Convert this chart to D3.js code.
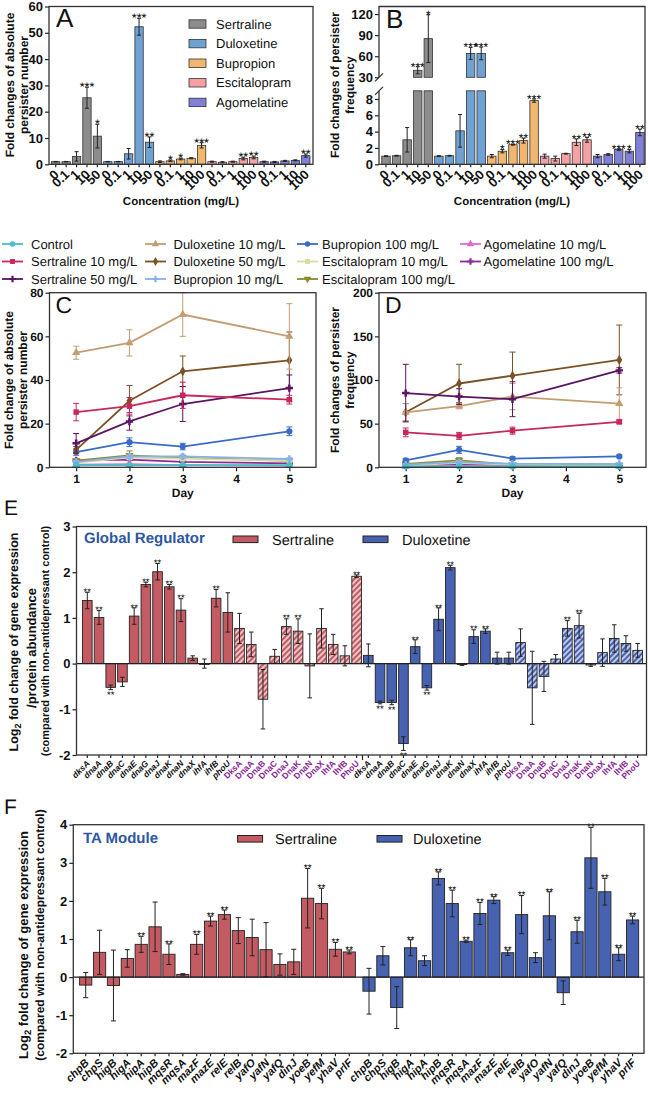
<!DOCTYPE html>
<html><head><meta charset="utf-8">
<script src="https://cdn.jsdelivr.net/npm/d3@7"></script>
<style>body{margin:0;background:#fff}</style>
</head><body>
<script>
// ---------------- DATA ----------------
const drugs = ["Sertraline","Duloxetine","Bupropion","Escitalopram","Agomelatine"];
const drugColors = ["#8c8c8c","#6fa2d3","#f2b76e","#f4a0a4","#8080d8"];
const concLabels = [["0","0.1","1","10","50"],["0","0.1","1","10","50"],["0","0.1","1","10","100"],["0","0.1","1","10","100"],["0","0.1","1","10","100"]];
// Panel A: fold change of absolute persister number
const absMean = [[1,1,3,25.3,10.7],[1,1,4,52.3,8.4],[1,1.3,2,2.3,7.2],[1,0.8,1,2.2,2.6],[1,0.9,1.3,1.5,3.3]];
const absErr  = [[0.1,0.1,1.8,4,4.5],[0.1,0.1,2,3.2,2],[0.3,0.3,0.3,0.2,1],[0.2,0.2,0.2,0.5,0.5],[0.2,0.2,0.2,0.2,0.6]];
const absSig  = [["","","","***","*"],["","","","***","**"],["","*","*","","***"],["","","","**","**"],["","","","","**"]];
const absTicks = [0,10,20,30,40,50,60];
// Panel B: fold change of persister frequency
const freqMean = [[1,1.05,3,40,85],[1,1.05,4.1,64,64],[1,1.6,2.4,2.9,7.8],[1,0.7,1.3,2.7,3],[1,1.2,1.8,1.6,3.9]];
const freqErr  = [[0.05,0.05,1.5,5,34],[0.05,0.05,2,8.5,9],[0.2,0.2,0.05,0.3,0.2],[0.25,0.3,0.05,0.4,0.3],[0.2,0.1,0.1,0.2,0.4]];
const freqSig  = [["","","","***","*"],["","","","***","***"],["","*","***","**","***"],["","","","**","**"],["","","***","*","**"]];
const freqTicksLow = [0,2,4,6,8];
const freqTicksHigh = [30,60,90,120];
// Panels C / D
const days = [1,2,3,5];
const seriesNames = ["Control","Sertraline 10 mg/L","Sertraline 50 mg/L","Duloxetine 10 mg/L","Duloxetine 50 mg/L","Bupropion 10 mg/L","Bupropion 100 mg/L","Escitalopram 10 mg/L","Escitalopram 100 mg/L","Agomelatine 10 mg/L","Agomelatine 100 mg/L"];
const seriesColors = ["#48bfc9","#c8265e","#5a1462","#c49c72","#7a5226","#88b0e8","#3a6cc6","#d8dc9e","#8c8a2e","#e468c8","#8c2a9c"];
const seriesMarkers = ["circle","square","cross","triangle","diamond","cross","circle","square","triangleDown","triangle","cross"];
const absDayMean = [[1,1,1,1],[25.3,28,33,31],[11,21,29,36.3],[52.5,57,70,60],[8,30.5,44,49],[2.5,5,5,3.8],[7,11.5,9.5,16.5],[2,4.5,4,3],[3,5.5,4.3,3],[1.2,1.5,1,0.8],[3.2,3.5,2.5,1.8]];
const absDayErr  = [[0.3,0.3,0.3,0.3],[4,4,6,2],[4.5,4,8,6],[3,6,10,15],[1.5,7,7,13],[0.5,1,1,0.5],[1.5,2,1.5,2],[0.5,1,1,0.5],[0.5,2,1,0.5],[0.3,0.3,0.3,0.3],[0.5,0.5,0.5,0.5]];
const freqDayMean = [[1,1,1,1],[40,36,42,52],[85,81,78,111],[63,70,81,73],[63,96,105,123],[3,6,4,4],[8,20,10,12.5],[2,5,3,2],[4,8,3,2.5],[1,2,1.5,1],[4,3,2,1.5]];
const freqDayErr  = [[0.5,0.5,0.5,0.5],[5,4,4,2],[33,9,20,3],[10,3,15,18],[10,22,27,40],[1,2,1,1],[2,4,2,1.5],[1,2,1,1],[1,3,1,1],[0.5,1,0.5,0.5],[1,1,1,1]];
const absDayTicks = [0,20,40,60,80];
const freqDayTicks = [0,50,100,150,200];
const dayTicks = [1,2,3,4,5];
// Panel E: global regulators
const geneLabels = ["dksA","dnaA","dnaB","dnaC","dnaE","dnaG","dnaJ","dnaK","dnaN","dnaX","ihfA","ihfB","phoU"];
const proteinLabels = ["DksA","DnaA","DnaB","DnaC","DnaJ","DnaK","DnaN","DnaX","IhfA","IhfB","PhoU"];
const sertGeneMean = [1.38,1.01,-0.52,-0.40,1.04,1.73,2.01,1.68,1.17,0.12,0.0,1.43,1.12];
const sertGeneErr  = [0.18,0.15,0.05,0.10,0.18,0.05,0.18,0.05,0.25,0.05,0.1,0.19,0.43];
const sertGeneSig  = ["**","**","**","","**","**","**","**","**","","","**",""];
const sertProtMean = [0.77,0.42,-0.78,0.16,0.81,0.71,-0.05,0.77,0.42,0.17,1.91];
const sertProtErr  = [0.33,0.27,0.65,0.15,0.17,0.27,0.70,0.43,0.22,0.22,0.03];
const sertProtSig  = ["","","","","**","**","","","","","**"];
const dulGeneMean = [0.18,-0.85,-0.85,-1.75,0.37,-0.53,0.97,2.1,-0.02,0.59,0.71,0.12,0.12];
const dulGeneErr  = [0.25,0.03,0.05,0.15,0.15,0.05,0.25,0.05,0.02,0.15,0.05,0.13,0.13];
const dulGeneSig  = ["","**","**","**","**","**","**","**","","**","**","",""];
const dulProtMean = [0.46,-0.53,-0.28,0.1,0.77,0.83,-0.03,0.24,0.55,0.44,0.29];
const dulProtErr  = [0.3,0.8,0.33,0.1,0.17,0.27,0.03,0.3,0.3,0.17,0.15];
const dulProtSig  = ["","","","","**","**","","","","",""];
const eTicks = [-2,-1,0,1,2,3];
// Panel F: TA modules
const taGenes = ["chpB","chpS","higB","higA","hipA","hipB","mqsR","mqsA","mazF","mazE","relE","relB","yafO","yafN","yafQ","dinJ","yoeB","yefM","yhaV","prlF"];
const taSertMean = [-0.21,0.65,-0.22,0.49,0.86,1.32,0.6,0.07,0.86,1.47,1.64,1.22,1.04,0.72,0.33,0.4,2.07,1.93,0.73,0.66];
const taSertErr  = [0.33,0.58,0.93,0.23,0.21,0.65,0.27,0.02,0.26,0.13,0.12,0.34,0.48,0.71,0.28,0.33,0.78,0.4,0.18,0.05];
const taSertSig  = ["","","","","**","","**","","**","**","**","","","","","","**","**","**","**"];
const taDulMean = [-0.37,0.56,-0.8,0.77,0.43,2.59,1.93,0.94,1.67,2.02,0.64,1.64,0.51,1.61,-0.41,1.19,3.13,2.24,0.6,1.5];
const taDulErr  = [0.6,0.24,0.55,0.21,0.13,0.17,0.35,0.03,0.29,0.09,0.07,0.5,0.13,0.63,0.31,0.3,0.8,0.35,0.17,0.1];
const taDulSig  = ["","","","**","","**","**","**","**","**","**","**","","**","","**","**","**","**","**"];
const fTicks = [-2,-1,0,1,2,3,4];
const geneColors = {Sertraline:"#c45a62", Duloxetine:"#4862b2"};

// ---------------- HELPERS ----------------
const FONT = "'Liberation Sans', Arial, Helvetica, sans-serif";
const INK = "#222";
const TOP = 6.5;
const plain = d => String(d).replace("\u2212","-");
const svg = d3.select("body").append("svg").attr("width",648).attr("height",1093)
  .style("font-family",FONT).style("display","block").attr("text-rendering","geometricPrecision");

function txt(g,x,y,s,o={}){
  const t=g.append("text").attr("x",x).attr("y",y).text(s)
    .attr("font-size",o.size||12).attr("font-weight",o.weight||"normal")
    .attr("text-anchor",o.anchor||"start").attr("fill",o.fill||"#111");
  if(o.style) t.attr("font-style",o.style);
  if(o.rotate!==undefined) t.attr("transform",`rotate(${o.rotate},${x},${y})`);
  return t;
}
function styleAxis(sel,size,weight="bold"){
  sel.attr("font-family",FONT);
  sel.select(".domain").remove();
  sel.selectAll(".tick line").attr("stroke",INK).attr("stroke-width",1.2);
  sel.selectAll(".tick text").attr("fill","#111").attr("font-size",size).attr("font-weight",weight);
}
function frame(g,x0,y0,x1,y1){
  g.append("rect").attr("x",x0).attr("y",y0).attr("width",x1-x0).attr("height",y1-y0)
   .attr("fill","none").attr("stroke","#333").attr("stroke-width",1.3);
}
function errBar(g,x,yTop,yBot,w,color,sw){
  g.append("line").attr("x1",x).attr("x2",x).attr("y1",yTop).attr("y2",yBot).attr("stroke",color).attr("stroke-width",sw);
  [yTop,yBot].forEach(y=>g.append("line").attr("x1",x-w/2).attr("x2",x+w/2).attr("y1",y).attr("y2",y).attr("stroke",color).attr("stroke-width",sw));
}
function starAbove(g,x,yTop,s,fs){ if(s) txt(g,x,yTop-1.5+0.44*fs,s,{size:fs,anchor:"middle",fill:"#000"}); }
function starBelow(g,x,yBot,s,fs){ if(s) txt(g,x,yBot+1.5+0.72*fs,s,{size:fs,anchor:"middle",fill:"#000"}); }
function yLabel(g,x,yc,s,size){
  return txt(g,x,yc,s,{size,weight:"bold",anchor:"middle",rotate:-90});
}

// ---------------- PANEL A ----------------
{
  const g = svg.append("g");
  const flat=[];
  drugs.forEach((d,gi)=>concLabels[gi].forEach((c,ci)=>flat.push({i:gi*5+ci,g:gi,c,v:absMean[gi][ci],e:absErr[gi][ci],s:absSig[gi][ci]})));
  const x = d3.scaleBand().domain(d3.range(flat.length)).range([50.5,311]).paddingInner(0.2).paddingOuter(0.1);
  const y = d3.scaleLinear().domain([0,60]).range([164.3,TOP]);
  g.append("g").attr("transform","translate(49,0)")
   .call(d3.axisLeft(y).tickValues(absTicks).tickSize(4).tickPadding(2)).call(styleAxis,13);
  const xa = g.append("g").attr("transform","translate(0,164.3)")
   .call(d3.axisBottom(x).tickSize(3).tickFormat(i=>flat[i].c)).call(styleAxis,13);
  xa.selectAll(".tick text").attr("x",0).attr("y",0).attr("dy",0).attr("text-anchor","end").attr("transform","translate(4,11) rotate(-45)");
  flat.forEach(d=>{
    g.append("rect").attr("x",x(d.i)).attr("width",x.bandwidth()).attr("y",y(d.v)).attr("height",y(0)-y(d.v))
     .attr("fill",drugColors[d.g]).attr("stroke","#333").attr("stroke-width",0.8);
    const cx=x(d.i)+x.bandwidth()/2;
    errBar(g,cx,y(d.v+d.e),y(Math.max(0,d.v-d.e)),4,INK,1);
    starAbove(g,cx,y(d.v+d.e),d.s,12.5);
  });
  frame(g,49,TOP,313,164.3);
  drugs.forEach((d,k)=>{
    const yy=24+k*19.6;
    g.append("rect").attr("x",189).attr("y",yy-4.2).attr("width",17).attr("height",8.4).attr("fill",drugColors[k]).attr("stroke","#333").attr("stroke-width",0.8);
    txt(g,216,yy+4.6,d,{size:13});
  });
  txt(g,56,27,"A",{size:26});
  yLabel(g,14,85,"Fold changes of absolute",12);
  yLabel(g,27.5,85,"persister number",12);
  txt(g,181,205,"Concentration (mg/L)",{size:11.5,weight:"bold",anchor:"middle"});
}

// ---------------- PANEL B ----------------
{
  const g = svg.append("g");
  const flat=[];
  drugs.forEach((d,gi)=>concLabels[gi].forEach((c,ci)=>flat.push({i:gi*5+ci,g:gi,c,v:freqMean[gi][ci],e:freqErr[gi][ci],s:freqSig[gi][ci]})));
  const x = d3.scaleBand().domain(d3.range(flat.length)).range([380.7,645.2]).paddingInner(0.2).paddingOuter(0.1);
  const yLow = d3.scaleLinear().domain([0,9]).range([164.3,90.8]);
  const yHigh = d3.scaleLinear().domain([30,129.6]).range([77.3,TOP+0.8]);
  const X0=379, X1=645;
  g.append("g").attr("transform",`translate(${X0},0)`)
   .call(d3.axisLeft(yLow).tickValues(freqTicksLow).tickSize(4).tickPadding(2)).call(styleAxis,13);
  g.append("g").attr("transform",`translate(${X0},0)`)
   .call(d3.axisLeft(yHigh).tickValues(freqTicksHigh).tickSize(4).tickPadding(2)).call(styleAxis,13);
  const xa = g.append("g").attr("transform","translate(0,164.3)")
   .call(d3.axisBottom(x).tickSize(3).tickFormat(i=>flat[i].c)).call(styleAxis,13);
  xa.selectAll(".tick text").attr("x",0).attr("y",0).attr("dy",0).attr("text-anchor","end").attr("transform","translate(4,11) rotate(-45)");
  flat.forEach(d=>{
    const bx=x(d.i), bw=x.bandwidth(), cx=bx+bw/2;
    const col=drugColors[d.g];
    if(d.v<=9){
      g.append("rect").attr("x",bx).attr("width",bw).attr("y",yLow(d.v)).attr("height",yLow(0)-yLow(d.v))
       .attr("fill",col).attr("stroke","#333").attr("stroke-width",0.8);
      errBar(g,cx,yLow(d.v+d.e),yLow(Math.max(0,d.v-d.e)),4,INK,1);
      starAbove(g,cx,yLow(d.v+d.e),d.s,12);
    } else {
      g.append("rect").attr("x",bx).attr("width",bw).attr("y",yLow(9)).attr("height",yLow(0)-yLow(9))
       .attr("fill",col).attr("stroke","#333").attr("stroke-width",0.8);
      g.append("rect").attr("x",bx).attr("width",bw).attr("y",yHigh(d.v)).attr("height",yHigh(30)-yHigh(d.v))
       .attr("fill",col).attr("stroke","#333").attr("stroke-width",0.8);
      errBar(g,cx,yHigh(d.v+d.e),yHigh(Math.max(30,d.v-d.e)),4,INK,1);
      starAbove(g,cx,yHigh(d.v+d.e),d.s,12);
    }
  });
  g.append("path").attr("d",`M${X0},${yHigh(30)}V${TOP}H${X1}V164.3H${X0}V${yLow(9)}`)
   .attr("fill","none").attr("stroke","#333").attr("stroke-width",1.3);
  [yHigh(30),yLow(9)].forEach(yy=>{
    g.append("line").attr("x1",X0-4).attr("x2",X0+4).attr("y1",yy+4).attr("y2",yy-4).attr("stroke","#333").attr("stroke-width",1.2);
  });
  txt(g,386,28,"B",{size:26});
  yLabel(g,339,85,"Fold changes of persister",12);
  yLabel(g,353.5,85,"frequency",12);
  txt(g,512,205,"Concentration (mg/L)",{size:11.5,weight:"bold",anchor:"middle"});
}

// ---------------- LEGEND C/D ----------------
const symType = {circle:d3.symbolCircle,square:d3.symbolSquare,triangle:d3.symbolTriangle,triangleDown:d3.symbolTriangle,diamond:d3.symbolDiamond,cross:d3.symbolCross};
function marker(g,x,y,k,size){
  const m=seriesMarkers[k];
  g.append("path").attr("d",d3.symbol().type(symType[m]).size(size)())
   .attr("transform",`translate(${x},${y})`+(m==="triangleDown"?" rotate(180)":""))
   .attr("fill",seriesColors[k]);
}
{
  const g = svg.append("g");
  const cols=[{lx:2,tx:31,items:[0,1,2]},{lx:145,tx:173.5,items:[3,4,5]},{lx:297,tx:322,items:[6,7,8]},{lx:460,tx:483.5,items:[9,10]}];
  const rows=[244,261.5,279];
  cols.forEach(c=>c.items.forEach((k,r)=>{
    const yy=rows[r];
    g.append("line").attr("x1",c.lx).attr("x2",c.lx+21).attr("y1",yy).attr("y2",yy).attr("stroke",seriesColors[k]).attr("stroke-width",1.8);
    marker(g,c.lx+10.5,yy,k,24);
    txt(g,c.tx,yy+4.6,seriesNames[k],{size:13});
  }));
}

// ---------------- PANELS C / D ----------------
function linePanel(x0,x1,domMax,ticks,means,errs,letter,labelLines,labelXs){
  const g = svg.append("g");
  const x = d3.scaleLinear().domain([0.5,5.5]).range([x0,x1]);
  const y = d3.scaleLinear().domain([0,domMax]).range([467.3,292.7]);
  g.append("g").attr("transform",`translate(${x0},0)`)
   .call(d3.axisLeft(y).tickValues(ticks).tickSize(4).tickPadding(2)).call(styleAxis,12);
  g.append("g").attr("transform","translate(0,467.3)")
   .call(d3.axisBottom(x).tickValues(dayTicks).tickFormat(plain).tickSize(4).tickPadding(3)).call(styleAxis,12);
  const line = d3.line().x(d=>x(d[0])).y(d=>y(d[1]));
  for(let k=seriesNames.length-1;k>=0;k--){
    const pts=days.map((d,i)=>[d,means[k][i],errs[k][i]]);
    pts.forEach(p=>errBar(g,x(p[0]),y(p[1]+p[2]),y(Math.max(0,p[1]-p[2])),6,seriesColors[k],1));
    g.append("path").attr("d",line(pts)).attr("fill","none").attr("stroke",seriesColors[k]).attr("stroke-width",1.8);
    pts.forEach(p=>marker(g,x(p[0]),y(p[1]),k,30));
  }
  frame(g,x0,292.7,x1,467.3);
  txt(g,x0+6,313,letter,{size:23});
  txt(g,(x0+x1)/2,497,"Day",{size:12,weight:"bold",anchor:"middle"});
  yLabel(g,labelXs[0],380,labelLines[0],12);
  yLabel(g,labelXs[1],380,labelLines[1],12);
}
linePanel(49.5,316,80,absDayTicks,absDayMean,absDayErr,"C",["Fold change of absolute","persister number"],[13,27]);
linePanel(379,646,200,freqDayTicks,freqDayMean,freqDayErr,"D",["Fold changes of persister","frequency"],[339,353.5]);

// ---------------- PATTERNS ----------------
const defs = svg.append("defs");
Object.entries(geneColors).forEach(([name,col])=>{
  const p=defs.append("pattern").attr("id","hatch"+name).attr("patternUnits","userSpaceOnUse")
    .attr("width",4).attr("height",4).attr("patternTransform","rotate(45)");
  p.append("rect").attr("width",4).attr("height",4).attr("fill",col);
  p.append("line").attr("x1",2).attr("x2",2).attr("y1",0).attr("y2",4).attr("stroke","#fff").attr("stroke-width",1.3);
});

// ---------------- PANEL E ----------------
{
  const g = svg.append("g");
  const items=[];
  const add=(drug,labels,means,errs,sigs,isProt)=>labels.forEach((l,i)=>items.push({drug,l,v:means[i],e:errs[i],s:sigs[i],p:isProt}));
  add("Sertraline",geneLabels,sertGeneMean,sertGeneErr,sertGeneSig,false);
  add("Sertraline",proteinLabels,sertProtMean,sertProtErr,sertProtSig,true);
  add("Duloxetine",geneLabels,dulGeneMean,dulGeneErr,dulGeneSig,false);
  add("Duloxetine",proteinLabels,dulProtMean,dulProtErr,dulProtSig,true);
  const X0=76.5,X1=646.5,Y0=526.5,Y1=755;
  const x = d3.scaleBand().domain(d3.range(items.length)).range([81.45,643.5]).paddingInner(0.18).paddingOuter(0.09);
  const y = d3.scaleLinear().domain([-2,3]).range([Y1,Y0]);
  g.append("g").attr("transform",`translate(${X0},0)`)
   .call(d3.axisLeft(y).tickValues(eTicks).tickFormat(plain).tickSize(4).tickPadding(2)).call(styleAxis,13);
  const xa=g.append("g").attr("transform",`translate(0,${Y1})`)
   .call(d3.axisBottom(x).tickSize(3).tickFormat(i=>items[i].l)).call(styleAxis,8.5);
  xa.selectAll(".tick text").attr("x",0).attr("y",0).attr("dy",0).attr("text-anchor","end")
    .attr("transform","translate(3,9) rotate(-45)")
    .attr("fill",(i)=>items[i].p?"#8a1f94":"#111")
    .attr("font-style",(i)=>items[i].p?"normal":"italic");
  const midX=(x(23)+x.bandwidth()+x(24))/2;
  g.append("line").attr("x1",midX).attr("x2",midX).attr("y1",Y1).attr("y2",Y1+5).attr("stroke",INK).attr("stroke-width",1.2);
  items.forEach((d,i)=>{
    const bx=x(i),bw=x.bandwidth(),cx=bx+bw/2;
    const top=Math.min(y(d.v),y(0)), h=Math.abs(y(d.v)-y(0));
    g.append("rect").attr("x",bx).attr("width",bw).attr("y",top).attr("height",Math.max(h,0.8))
     .attr("fill",d.p?`url(#hatch${d.drug})`:geneColors[d.drug]).attr("stroke","#222").attr("stroke-width",0.9);
    errBar(g,cx,y(d.v+d.e),y(d.v-d.e),4.5,INK,1);
    if(d.v>=0) starAbove(g,cx,y(d.v+d.e),d.s,9.5); else starBelow(g,cx,y(d.v-d.e),d.s,9.5);
  });
  g.append("line").attr("x1",X0).attr("x2",X1).attr("y1",y(0)).attr("y2",y(0)).attr("stroke",INK).attr("stroke-width",1.1);
  frame(g,X0,Y0,X1,Y1);
  txt(g,84,543,"Global Regulator",{size:15,weight:"bold",fill:"#2d56a4"});
  g.append("rect").attr("x",233).attr("y",536).attr("width",25).attr("height",6.6).attr("fill",geneColors.Sertraline).attr("stroke","#222");
  txt(g,272,545,"Sertraline",{size:14.5});
  g.append("rect").attr("x",363).attr("y",536).attr("width",25).attr("height",6.6).attr("fill",geneColors.Duloxetine).attr("stroke","#222");
  txt(g,402,545,"Duloxetine",{size:14.5});
  txt(g,4,515,"E",{size:21});
  const l1=txt(g,18,642,"",{size:12.5,weight:"bold",anchor:"middle",rotate:-90});
  l1.append("tspan").text("Log");
  l1.append("tspan").attr("dy",3).attr("font-size",9).text("2");
  l1.append("tspan").attr("dy",-3).text(" fold change of gene expression");
  yLabel(g,36,648,"/protein abundance",13);
  yLabel(g,49,641,"(compared with non-antidepressant control)",11);
}

// ---------------- PANEL F ----------------
{
  const g = svg.append("g");
  const X0=73.3,X1=644,Y0=824.7,Y1=1053.3;
  const xS = d3.scaleBand().domain(taGenes).range([78.77,356.2]).paddingInner(0.12).paddingOuter(0.06);
  const xD = d3.scaleBand().domain(taGenes).range([362.07,639.5]).paddingInner(0.12).paddingOuter(0.06);
  const y = d3.scaleLinear().domain([-2,4]).range([Y1,Y0]);
  g.append("g").attr("transform",`translate(${X0},0)`)
   .call(d3.axisLeft(y).tickValues(fTicks).tickFormat(plain).tickSize(4).tickPadding(2)).call(styleAxis,13);
  [xS,xD].forEach(sc=>{
    const xa=g.append("g").attr("transform",`translate(0,${Y1})`)
      .call(d3.axisBottom(sc).tickSize(3)).call(styleAxis,11);
    xa.selectAll(".tick text").attr("x",0).attr("y",0).attr("dy",0).attr("text-anchor","end")
      .attr("font-style","italic").attr("transform","translate(4,10) rotate(-45)");
  });
  const groups=[{sc:xS,m:taSertMean,e:taSertErr,s:taSertSig,c:geneColors.Sertraline},{sc:xD,m:taDulMean,e:taDulErr,s:taDulSig,c:geneColors.Duloxetine}];
  groups.forEach(G=>taGenes.forEach((gn,i)=>{
    const bx=G.sc(gn),bw=G.sc.bandwidth(),cx=bx+bw/2,v=G.m[i],e=G.e[i];
    const top=Math.min(y(v),y(0)),h=Math.abs(y(v)-y(0));
    g.append("rect").attr("x",bx).attr("width",bw).attr("y",top).attr("height",Math.max(h,0.8))
     .attr("fill",G.c).attr("stroke","#222").attr("stroke-width",0.9);
    errBar(g,cx,y(v+e),y(v-e),5,INK,1);
    if(v>=0) starAbove(g,cx,y(v+e),G.s[i],10); else starBelow(g,cx,y(v-e),G.s[i],10);
  }));
  g.append("line").attr("x1",X0).attr("x2",X1).attr("y1",y(0)).attr("y2",y(0)).attr("stroke",INK).attr("stroke-width",1.1);
  frame(g,X0,Y0,X1,Y1);
  txt(g,83,843,"TA Module",{size:15,weight:"bold",fill:"#2d56a4"});
  g.append("rect").attr("x",237.6).attr("y",835.5).attr("width",25).attr("height",6.6).attr("fill",geneColors.Sertraline).attr("stroke","#222");
  txt(g,275,844,"Sertraline",{size:14.5});
  g.append("rect").attr("x",377).attr("y",835.5).attr("width",25).attr("height",6.6).attr("fill",geneColors.Duloxetine).attr("stroke","#222");
  txt(g,413,844,"Duloxetine",{size:14.5});
  txt(g,4,814,"F",{size:21});
  const l1=txt(g,28,945,"",{size:13,weight:"bold",anchor:"middle",rotate:-90});
  l1.append("tspan").text("Log");
  l1.append("tspan").attr("dy",3).attr("font-size",9.5).text("2");
  l1.append("tspan").attr("dy",-3).text(" fold change of gene expression");
  yLabel(g,44,935,"(compared with non-antidepressant control)",12);
}
</script>
</body></html>
